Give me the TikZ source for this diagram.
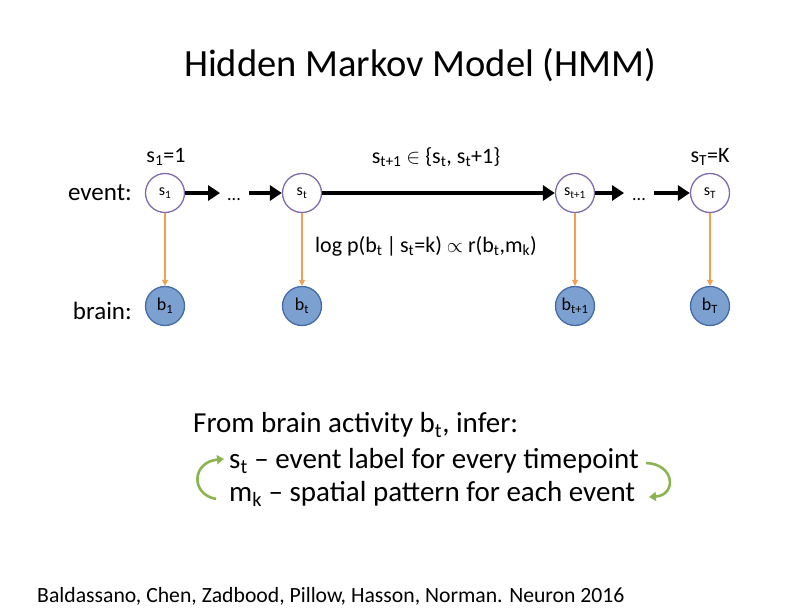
\documentclass[tikz,border=0pt]{standalone}
\usepackage{fontspec}
\setmainfont{Carlito}
\usetikzlibrary{arrows.meta}
\newcommand\sbs[1]{\textsubscript{#1}}
\definecolor{evborder}{RGB}{128,108,170}
\definecolor{brfill}{RGB}{124,160,208}
\definecolor{brborder}{RGB}{70,108,168}
\definecolor{orangeln}{RGB}{240,160,80}
\definecolor{greenarr}{RGB}{140,180,80}
\begin{document}
\begin{tikzpicture}[x=1pt,y=-1pt,
  evnode/.style={circle,draw=evborder,line width=1.3pt,fill=white,minimum size=39pt,inner sep=0pt,font=\fontsize{16}{18}\selectfont},
  brnode/.style={circle,draw=brborder,line width=1.3pt,fill=brfill,minimum size=39pt,inner sep=0pt,font=\fontsize{18}{20}\selectfont},
  trans/.style={line width=3.6pt,-{Triangle[length=12pt,width=15pt]}},
  emit/.style={orangeln,line width=1.2pt,-{Triangle[length=6pt,width=6pt]}},
  side/.style={font=\fontsize{25}{30}\selectfont,inner sep=0pt},
  lbl/.style={font=\fontsize{22}{26}\selectfont,inner sep=0pt},
  big/.style={font=\fontsize{29}{34}\selectfont,inner sep=0pt},
  cycarr/.style={greenarr,line width=2.6pt,-{Triangle[length=7pt,width=9pt]}}
]
\useasboundingbox (0,0) rectangle (800,613);
\fill[white] (0,0) rectangle (800,613);

\node[font=\fontsize{38.5}{44}\selectfont] (title) at (420,65) {Hidden Markov Model (HMM)};

\node[side,anchor=east] (evlbl) at (132,193) {event:};
\node[side,anchor=east] (brlbl) at (132,311) {brain:};

\node[evnode] (s1) at (165,193) {s\sbs{1}};
\node[evnode] (st) at (302,193) {s\sbs{t}};
\node[evnode] (st1) at (575,193) {s\sbs{t+1}};
\node[evnode] (sT) at (710,193) {s\sbs{T}};

\node[brnode] (b1) at (165,306) {b\sbs{1}};
\node[brnode] (bt) at (302,306) {b\sbs{t}};
\node[brnode] (bt1) at (575,306) {b\sbs{t+1}};
\node[brnode] (bT) at (710,306) {b\sbs{T}};

\node[lbl,font=\fontsize{18}{20}\selectfont,anchor=base] (d1) at (234,200) {...};
\node[lbl,font=\fontsize{18}{20}\selectfont,anchor=base] (d2) at (639,200) {...};
\coordinate (a1) at (220,193);
\coordinate (a2) at (249,193);
\coordinate (a3) at (624,193);
\coordinate (a4) at (654,193);

\draw[trans] (s1) -- (a1);
\draw[trans] (a2) -- (st);
\draw[trans] (st) -- (st1);
\draw[trans] (st1) -- (a3);
\draw[trans] (a4) -- (sT);

\draw[emit] (s1) -- (b1);
\draw[emit] (st) -- (bt);
\draw[emit] (st1) -- (bt1);
\draw[emit] (sT) -- (bT);

\node[lbl] (init) at (166,157) {s\sbs{1}=1};
\node[lbl] (fin) at (710,157) {s\sbs{T}=K};
\node[lbl] (rule) at (436,157) {s\sbs{t+1} $\in$ \{s\sbs{t}, s\sbs{t}+1\}};
\node[lbl,anchor=west] (lik) at (315,246) {log p(b\sbs{t}\,|\,s\sbs{t}=k) $\propto$ r(b\sbs{t},m\sbs{k})};

\node[big,anchor=west] (infer) at (193,425) {From brain activity b\sbs{t}, infer:};
\node[big,anchor=west] (line1) at (229,461) {s\sbs{t} – event label for every timepoint};
\node[big,anchor=west] (line2) at (229,494) {m\sbs{k} – spatial pattern for each event};

\coordinate (gl1) at (216,499);
\coordinate (gl2) at (224,459);
\coordinate (gr1) at (646,463);
\coordinate (gr2) at (649,497);
\draw[cycarr] (gl1) .. controls (190,494) and (192,462) .. (gl2);
\draw[cycarr] (gr1) .. controls (675,464) and (677,495) .. (gr2);

\node[font=\fontsize{21.7}{25}\selectfont,anchor=west,inner sep=0pt] (cite) at (37,596) {Baldassano, Chen, Zadbood, Pillow, Hasson, Norman. Neuron 2016};
\end{tikzpicture}
\end{document}
